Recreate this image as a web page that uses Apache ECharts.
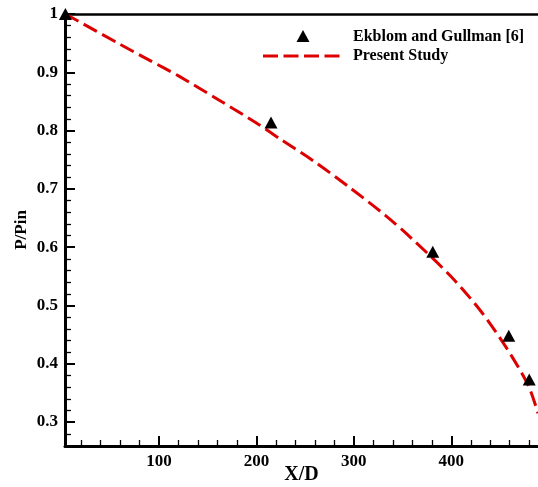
<!DOCTYPE html>
<html>
<head>
<meta charset="utf-8">
<script src="https://cdn.jsdelivr.net/npm/echarts@6/dist/echarts.min.js"></script>
<style>html,body{margin:0;padding:0;background:#fff;}#c{width:538px;height:487px;}</style>
</head>
<body>
<div id="c"></div>
<script>
// Data
var expX = [4, 215, 381, 459, 480];
var expY = [1.0, 0.814, 0.592, 0.448, 0.373];
var curveX = [4, 59, 91, 121, 161, 200, 224, 258.5, 296, 332, 358, 399, 430, 456, 479, 489];
var curveY = [1.0, 0.949, 0.920, 0.893, 0.853, 0.813, 0.786, 0.748, 0.702, 0.655, 0.617, 0.551, 0.491, 0.429, 0.363, 0.315];
var xTicks = [100, 200, 300, 400];
var xMinorTicks = [20, 40, 60, 80, 120, 140, 160, 180, 220, 240, 260, 280, 320, 340, 360, 380, 420, 440, 460, 480];
var yTicks = [0.3, 0.4, 0.5, 0.6, 0.7, 0.8, 0.9, 1.0];
var yMinorTicks = [0.28, 0.32, 0.34, 0.36, 0.38, 0.42, 0.44, 0.46, 0.48, 0.52, 0.54, 0.56, 0.58, 0.62, 0.64, 0.66, 0.68, 0.72, 0.74, 0.76, 0.78, 0.82, 0.84, 0.86, 0.88, 0.92, 0.94, 0.96, 0.98];
var seriesNames = ['Ekblom and Gullman [6]', 'Present Study'];
var xName = 'X/D', yName = 'P/Pin';
var xMin = 3.6, xMax = 489, yMin = 0.259, yMax = 1.0;

function zip(a, b) { return a.map(function (v, i) { return [v, b[i]]; }); }
var font = 'Liberation Serif';
var red = '#dd0000';

var chart = echarts.init(document.getElementById('c'), null, {renderer: 'canvas'});
chart.setOption({
  animation: false,
  backgroundColor: '#fff',
  grid: {left: 65, top: 14, right: 0, bottom: 41, containLabel: false, outerBoundsMode: 'none'},
  graphic: [
    {type: 'polygon', shape: {points: [[296.5, 42], [309.5, 42], [303, 30]]}, style: {fill: '#000'}, z: 10},
    {type: 'line', shape: {x1: 263, y1: 56, x2: 340, y2: 56}, style: {stroke: red, lineWidth: 3, lineDash: [15, 5.5]}, z: 10},
    {type: 'text', left: 353, top: 29, style: {text: seriesNames[0], font: 'bold 16px "Liberation Serif"', fill: '#000'}, z: 10},
    {type: 'text', left: 353, top: 48, style: {text: seriesNames[1], font: 'bold 16px "Liberation Serif"', fill: '#000'}, z: 10}
  ],
  xAxis: [
    {
      type: 'value', min: xMin, max: xMax, position: 'bottom',
      name: xName, nameLocation: 'middle', nameGap: 19, nameMoveOverlap: false,
      nameTextStyle: {fontFamily: font, fontWeight: 'bold', fontSize: 20, color: '#000'},
      axisLine: {show: true, lineStyle: {color: '#000', width: 3}},
      axisTick: {show: true, inside: true, length: 10, lineStyle: {color: '#000', width: 2}, customValues: xTicks},
      axisLabel: {show: true, margin: 7, fontFamily: font, fontWeight: 'bold', fontSize: 17, color: '#000', customValues: xTicks},
      splitLine: {show: false}
    },
    {
      type: 'value', min: xMin, max: xMax, position: 'bottom',
      axisLine: {show: false},
      axisTick: {show: true, inside: true, length: 6, lineStyle: {color: '#000', width: 1.3}, customValues: xMinorTicks},
      axisLabel: {show: false},
      splitLine: {show: false}
    },
    {
      type: 'value', min: xMin, max: xMax, position: 'top',
      axisLine: {show: true, lineStyle: {color: '#000', width: 2.5}},
      axisTick: {show: false}, axisLabel: {show: false}, splitLine: {show: false}
    }
  ],
  yAxis: [
    {
      type: 'value', min: yMin, max: yMax, position: 'left',
      name: yName, nameLocation: 'middle', nameGap: 35, nameRotate: 90, nameMoveOverlap: false,
      nameTextStyle: {fontFamily: font, fontWeight: 'bold', fontSize: 17, color: '#000'},
      axisLine: {show: true, lineStyle: {color: '#000', width: 3}},
      axisTick: {show: true, inside: true, length: 10, lineStyle: {color: '#000', width: 2}, customValues: yTicks},
      axisLabel: {show: true, margin: 7, fontFamily: font, fontWeight: 'bold', fontSize: 17, color: '#000', customValues: yTicks},
      splitLine: {show: false}
    },
    {
      type: 'value', min: yMin, max: yMax, position: 'left',
      axisLine: {show: false},
      axisTick: {show: true, inside: true, length: 6, lineStyle: {color: '#000', width: 1.3}, customValues: yMinorTicks},
      axisLabel: {show: false},
      splitLine: {show: false}
    }
  ],
  series: [
    {
      name: seriesNames[0], type: 'scatter', xAxisIndex: 0, yAxisIndex: 0,
      symbol: 'triangle', symbolSize: [13, 12], clip: false, z: 5,
      itemStyle: {color: '#000', opacity: 1},
      data: zip(expX, expY)
    },
    {
      name: seriesNames[1], type: 'line', xAxisIndex: 0, yAxisIndex: 0,
      smooth: 0.3, symbol: 'none', clip: false,
      itemStyle: {color: red},
      lineStyle: {color: red, width: 3, type: [15, 6]},
      data: zip(curveX, curveY)
    }
  ]
});
</script>
</body>
</html>
